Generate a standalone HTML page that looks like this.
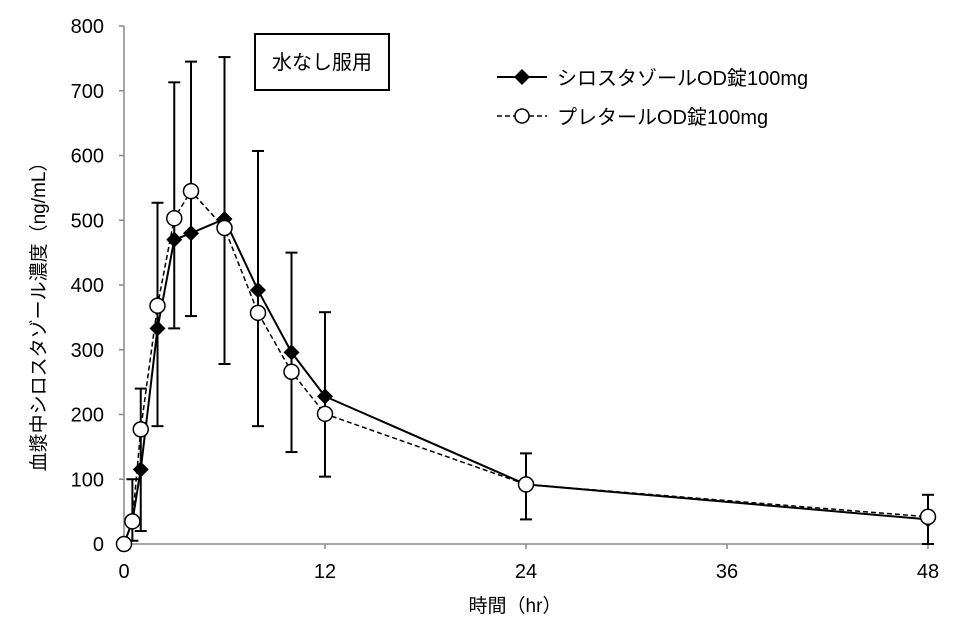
<!DOCTYPE html>
<html><head><meta charset="utf-8"><style>
body{margin:0;background:#fff;}
svg text{font-family:"Liberation Sans","Noto Sans CJK JP",sans-serif;fill:#000;}
</style></head><body>
<svg id="s" width="955" height="636" xmlns="http://www.w3.org/2000/svg"></svg>
<script>
const s=document.getElementById('s');
const px=x=>124+16.75*x, py=v=>544-0.6475*v;
let h='';
h+=`<line x1="124" y1="26" x2="124" y2="544" stroke="#888" stroke-width="1.5"/>`;
h+=`<line x1="124" y1="544" x2="928" y2="544" stroke="#888" stroke-width="1.5"/>`;
for(let v=0;v<=800;v+=100){const y=py(v);h+=`<line x1="119" y1="${y}" x2="124" y2="${y}" stroke="#888" stroke-width="1.5"/><text x="104" y="${y+7}" font-size="20" text-anchor="end">${v}</text>`;}
for(const t of [0,12,24,36,48]){const x=px(t);h+=`<line x1="${x}" y1="544" x2="${x}" y2="549" stroke="#888" stroke-width="1.5"/><text x="${x}" y="578" font-size="20" text-anchor="middle">${t}</text>`;}
h+=`<text x="515" y="612" font-size="19" text-anchor="middle">時間（hr）</text>`;
h+=`<text transform="translate(45,312) rotate(-90)" font-size="19" text-anchor="middle">血漿中シロスタゾール濃度（ng/mL）</text>`;
const eb=[[0.5,5,100],[1,20,240],[2,182,527],[3,333,713],[4,352,745],[6,278,752],[8,182,607],[10,142,450],[12,104,358],[24,38,140],[48,0,76]];
for(const [t,a,b] of eb){const x=px(t);h+=`<line x1="${x}" y1="${py(a)}" x2="${x}" y2="${py(b)}" stroke="#000" stroke-width="2"/><line x1="${x-6}" y1="${py(a)}" x2="${x+6}" y2="${py(a)}" stroke="#000" stroke-width="2"/><line x1="${x-6}" y1="${py(b)}" x2="${x+6}" y2="${py(b)}" stroke="#000" stroke-width="2"/>`;}
const T=[0,0.5,1,2,3,4,6,8,10,12,24,48];
const D=[0,35,115,333,470,480,502,392,296,228,92,38];
const C=[0,35,177,368,503,545,488,357,266,201,92,42];
const pts=a=>T.map((t,i)=>`${px(t)},${py(a[i])}`).join(' ');
h+=`<polyline points="${pts(C)}" fill="none" stroke="#000" stroke-width="1.5" stroke-dasharray="5,3"/>`;
h+=`<polyline points="${pts(D)}" fill="none" stroke="#000" stroke-width="2"/>`;
T.forEach((t,i)=>{const x=px(t),y=py(D[i]);h+=`<polygon points="${x},${y-8} ${x+8},${y} ${x},${y+8} ${x-8},${y}" fill="#000"/>`;});
T.forEach((t,i)=>{h+=`<circle cx="${px(t)}" cy="${py(C[i])}" r="7.5" fill="#fff" stroke="#000" stroke-width="1.5"/>`;});
h+=`<rect x="255" y="34" width="134" height="56" fill="#fff" stroke="#000" stroke-width="2"/><text x="322" y="69" font-size="20" text-anchor="middle">水なし服用</text>`;
h+=`<line x1="497" y1="77" x2="547" y2="77" stroke="#000" stroke-width="2"/><polygon points="522,69 530,77 522,85 514,77" fill="#000"/><text x="557" y="85" font-size="20">シロスタゾールOD錠100mg</text>`;
h+=`<line x1="497" y1="116" x2="547" y2="116" stroke="#000" stroke-width="1.5" stroke-dasharray="5,3"/><circle cx="522" cy="116" r="7" fill="#fff" stroke="#000" stroke-width="1.5"/><text x="557" y="124" font-size="20">プレタールOD錠100mg</text>`;
s.innerHTML=h;
</script>
</body></html>
